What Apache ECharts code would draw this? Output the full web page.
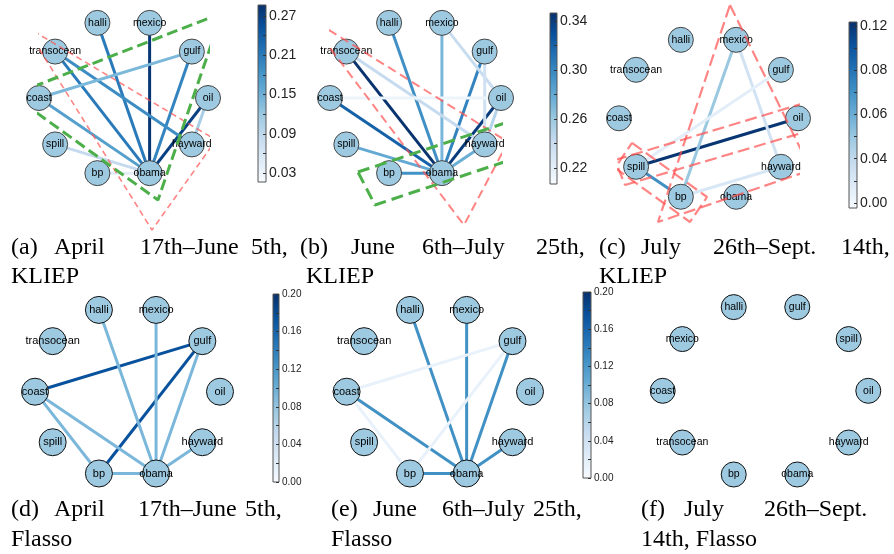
<!DOCTYPE html>
<html><head><meta charset="utf-8">
<script src="https://cdn.jsdelivr.net/npm/echarts@6/dist/echarts.min.js"></script>
<style>html,body{margin:0;padding:0;background:#fff}#c{width:894px;height:554px}</style>
</head><body><div id="c"></div>
<script>
// ---------------- DATA ----------------
// node order around the circle (counter-clockwise from the right-most slot)
const orderKLIEP = ['oil','gulf','mexico','halli','transocean','coast','spill','bp','obama','hayward'];
const orderFlassoF = ['oil','spill','gulf','halli','mexico','coast','transocean','bp','obama','hayward'];

// edges: [source, target, weight]
const edgesA = [
  ['mexico','obama',0.28],['oil','obama',0.27],['halli','obama',0.21],['gulf','obama',0.20],
  ['transocean','obama',0.21],['transocean','hayward',0.19],['coast','obama',0.17],
  ['coast','gulf',0.14],['oil','hayward',0.11],['spill','obama',0.085],['bp','obama',0.045]
];
const edgesB = [
  ['transocean','obama',0.345],['oil','obama',0.34],['coast','obama',0.32],['halli','obama',0.295],
  ['gulf','obama',0.302],['bp','obama',0.294],['mexico','obama',0.272],['spill','obama',0.28],
  ['hayward','obama',0.277],['oil','hayward',0.249],['transocean','hayward',0.242],
  ['mexico','oil',0.24],['gulf','hayward',0.235],['coast','oil',0.214]
];
const edgesC = [
  ['spill','oil',0.12],['spill','bp',0.077],['mexico','bp',0.045],['mexico','hayward',0.021],
  ['bp','hayward',0.016],['gulf','spill',0.009]
];
const edgesD = [
  ['gulf','coast',0.175],['gulf','bp',0.175],['halli','obama',0.092],['mexico','obama',0.092],
  ['gulf','obama',0.092],['coast','bp',0.092],['coast','obama',0.092],['bp','obama',0.092],
  ['hayward','obama',0.092]
];
const edgesE = [
  ['halli','obama',0.126],['mexico','obama',0.126],['gulf','obama',0.126],['coast','obama',0.126],
  ['bp','obama',0.126],['hayward','obama',0.126],['gulf','coast',0.014],['gulf','bp',0.014],['coast','bp',0.014]
];
const edgesF = [];

// colour-bar scales
const cbA = {min:0.0165, max:0.2865, ticks:[0.03,0.09,0.15,0.21,0.27], labels:['0.03','0.09','0.15','0.21','0.27'], minor:[0.06,0.12,0.18,0.24]};
const cbB = {min:0.207, max:0.3465, ticks:[0.22,0.26,0.30,0.34], labels:['0.22','0.26','0.30','0.34'], minor:[0.24,0.28,0.32]};
const cbC = {min:-0.0034, max:0.1227, ticks:[0,0.03,0.06,0.09,0.12], labels:['0.00','0.04','0.06','0.08','0.12'], minor:[0.015,0.045,0.075,0.105]};
const cbD = {min:0, max:0.2, ticks:[0,0.04,0.08,0.12,0.16,0.2], labels:['0.00','0.04','0.08','0.12','0.16','0.20'], minor:[0.02,0.06,0.10,0.14,0.18]};
const cbE = {min:0, max:0.2, ticks:[0,0.04,0.08,0.12,0.16,0.2], labels:['0.00','0.04','0.08','0.12','0.16','0.20'], minor:[0.02,0.06,0.10,0.14,0.18]};

// highlighted regions (vertices in each panel's unit-circle data space)
const polyA_green = [[1.166,1.076],[-1.320,0.038],[0.408,-1.291]];
const polyA_red   = [[-1.166,0.911],[1.095,-0.532],[0.337,-1.671]];
const polyB_red   = [[-1.292,1.051],[1.082,-0.557],[0.567,-1.608]];
const polyB_green = [[-0.673,-0.937],[1.082,-0.304],[1.281,-0.722],[-0.474,-1.354]];
const polyC_tri   = [[0.240,1.373],[1.145,-0.627],[-0.564,-1.257]];
const polyC_long  = [[-1.045,-0.506],[1.112,0.198],[1.268,-0.105],[-0.933,-0.808]];
const polyC_small = [[-0.855,-0.299],[-0.017,-0.954],[-0.207,-1.257],[-1.045,-0.602]];

// captions: [text, left]
const captionTop1 = [['(a)',11],['April',54],['17th–June',140],['5th,',251],['(b)',300],['June',351],['6th–July',422],['25th,',536],['(c)',599],['July',641],['26th–Sept.',713],['14th,',841]];
const captionTop2 = [['KLIEP',11],['KLIEP',306],['KLIEP',599]];
const captionBot1 = [['(d)',11],['April',54],['17th–June',138],['5th,',245],['(e)',331],['June',373],['6th–July',442],['25th,',533],['(f)',641],['July',684],['26th–Sept.',764]];
const captionBot2 = [['Flasso',11],['Flasso',331],['14th, Flasso',641]];

// ---------------- STYLE / LAYOUT ----------------
const bluesStops = ['#f7fbff','#deebf7','#c6dbef','#9ecae1','#6baed6','#4292c6','#2171b5','#08519c','#08306b'];
function hex2rgb(h){return [parseInt(h.slice(1,3),16),parseInt(h.slice(3,5),16),parseInt(h.slice(5,7),16)];}
function blues(t){
  t = Math.max(0, Math.min(1, t));
  const s = t*8, i = Math.min(7, Math.floor(s)), f = s - i;
  const a = hex2rgb(bluesStops[i]), b = hex2rgb(bluesStops[i+1]);
  const c = a.map((v,k)=>Math.round(v + (b[k]-v)*f));
  return 'rgb(' + c.join(',') + ')';
}
function colorOf(v, cb){ return blues((v - cb.min)/(cb.max - cb.min)); }

const RED = 'rgba(255,80,80,0.7)';
const GREEN = '#4daf4a';

const panels = [
  {order:orderKLIEP, edges:edgesA, cb:cbA, box:{cx:123.5,cy:98,rx:84.5,ry:79}, node:25, font:10.5, border:'#444',
   cbBox:{left:258,top:5,width:8,height:177}, cbFont:14,
   polys:[{pts:polyA_red,color:RED,width:1.6,dash:[6,4]},{pts:polyA_green,color:GREEN,width:3,dash:[11,5]}]},
  {order:orderKLIEP, edges:edgesB, cb:cbB, box:{cx:415.5,cy:98,rx:85.5,ry:79}, node:25, font:10.5, border:'#444',
   cbBox:{left:550,top:13,width:7,height:171}, cbFont:14,
   polys:[{pts:polyB_red,color:RED,width:2,dash:[9,5]},{pts:polyB_green,color:GREEN,width:3,dash:[12,6]}]},
  {order:orderKLIEP, edges:edgesC, cb:cbC, box:{cx:708.5,cy:118.3,rx:89.5,ry:82.5}, node:25, font:10.5, border:'#444',
   cbBox:{left:849,top:22,width:8,height:186}, cbFont:14,
   polys:[{pts:polyC_tri,color:RED,width:2.2,dash:[12,5]},{pts:polyC_long,color:RED,width:2.2,dash:[12,5]},{pts:polyC_small,color:RED,width:2.2,dash:[12,5]}]},
  {order:orderKLIEP, edges:edgesD, cb:cbD, box:{cx:127.5,cy:391.7,rx:92.5,ry:86}, node:27, font:11, border:'#111',
   cbBox:{left:273,top:294,width:6,height:188}, cbFont:10, polys:[]},
  {order:orderKLIEP, edges:edgesE, cb:cbE, box:{cx:438.3,cy:391.7,rx:91.7,ry:86}, node:27, font:11, border:'#111',
   cbBox:{left:583,top:292,width:8,height:186}, cbFont:10, polys:[]},
  {order:orderFlassoF, edges:edgesF, cb:null, box:{cx:765.5,cy:390.8,rx:102.8,ry:88}, node:25, font:10.5, border:'#111', polys:[]}
];

const option = {animation:false, backgroundColor:'#fff', grid:[], xAxis:[], yAxis:[], series:[], graphic:[]};

panels.forEach(p => {
  const gi = option.grid.length;
  option.grid.push({left:p.box.cx-p.box.rx, top:p.box.cy-p.box.ry, width:2*p.box.rx, height:2*p.box.ry, show:false});
  option.xAxis.push({type:'value', gridIndex:gi, min:-1, max:1, show:false});
  option.yAxis.push({type:'value', gridIndex:gi, min:-1, max:1, show:false});
  const pos = {};
  p.order.forEach((n,k)=>{ const a = k*36*Math.PI/180; pos[n] = [Math.cos(a), Math.sin(a)]; });
  // edges
  p.edges.forEach(e=>{
    option.series.push({type:'line', xAxisIndex:gi, yAxisIndex:gi, clip:false, z:1, silent:true, symbol:'none',
      lineStyle:{color:colorOf(e[2],p.cb), width:3, cap:'butt'},
      data:[pos[e[0]], pos[e[1]]]});
  });
  // nodes (opaque discs with centred names)
  const names = p.order;
  option.series.push({type:'custom', xAxisIndex:gi, yAxisIndex:gi, z:5, silent:true,
    renderItem:(params, api)=>{
      const pt = api.coord([api.value(0), api.value(1)]);
      return {type:'group', children:[
        {type:'circle', shape:{cx:pt[0], cy:pt[1], r:p.node/2},
         style:{fill:'#9ecae1', stroke:p.border, lineWidth:1, opacity:1}},
        {type:'text', style:{text:names[params.dataIndex], x:pt[0], y:pt[1], align:'center', verticalAlign:'middle',
          textAlign:'center', textVerticalAlign:'middle',
          font:p.font+'px "Liberation Sans", Arial, sans-serif', fill:'#000'}}
      ]};
    },
    data:names.map(n=>pos[n])});
  // highlighted regions
  p.polys.forEach(poly=>{
    option.series.push({type:'line', xAxisIndex:gi, yAxisIndex:gi, clip:false, z:8, silent:true, symbol:'none',
      lineStyle:{color:poly.color, width:poly.width, type:poly.dash},
      data:poly.pts.concat([poly.pts[0]])});
  });
  if (p.cb) {
    const cb = p.cb;
    const ci = option.grid.length;
    option.grid.push({left:p.cbBox.left, top:p.cbBox.top, width:p.cbBox.width, height:p.cbBox.height, show:true,
      borderColor:'#555', borderWidth:1,
      backgroundColor:{type:'linear', x:0, y:1, x2:0, y2:0, colorStops:bluesStops.map((c,k)=>({offset:k/8, color:c}))}});
    option.xAxis.push({type:'category', gridIndex:ci, data:['c'], show:false});
    option.yAxis.push({type:'value', gridIndex:ci, min:cb.min, max:cb.max, position:'right',
      axisLine:{show:false}, splitLine:{show:false},
      axisTick:{show:true, inside:true, length:3, customValues:cb.ticks.concat(cb.minor), lineStyle:{color:'#333', width:1}},
      axisLabel:{show:true, margin:3, fontSize:p.cbFont, color:'#222', fontFamily:'Liberation Sans, Arial, sans-serif', customValues:cb.ticks,
        formatter:v=>{const i = cb.ticks.findIndex(t=>Math.abs(t-v)<1e-6); return i>=0 ? cb.labels[i] : '';}}});
  }
});

const capFont = '24px "Liberation Serif", "DejaVu Serif", serif';
function addCaption(words, y){
  words.forEach(w=>option.graphic.push({type:'text', left:w[1], top:y, z:10, silent:true,
    style:{text:w[0], font:capFont, fill:'#000'}}));
}
addCaption(captionTop1, 236);
addCaption(captionTop2, 265);
addCaption(captionBot1, 498);
addCaption(captionBot2, 528);

const chart = echarts.init(document.getElementById('c'), null, {renderer:'canvas'});
chart.setOption(option);
</script></body></html>
